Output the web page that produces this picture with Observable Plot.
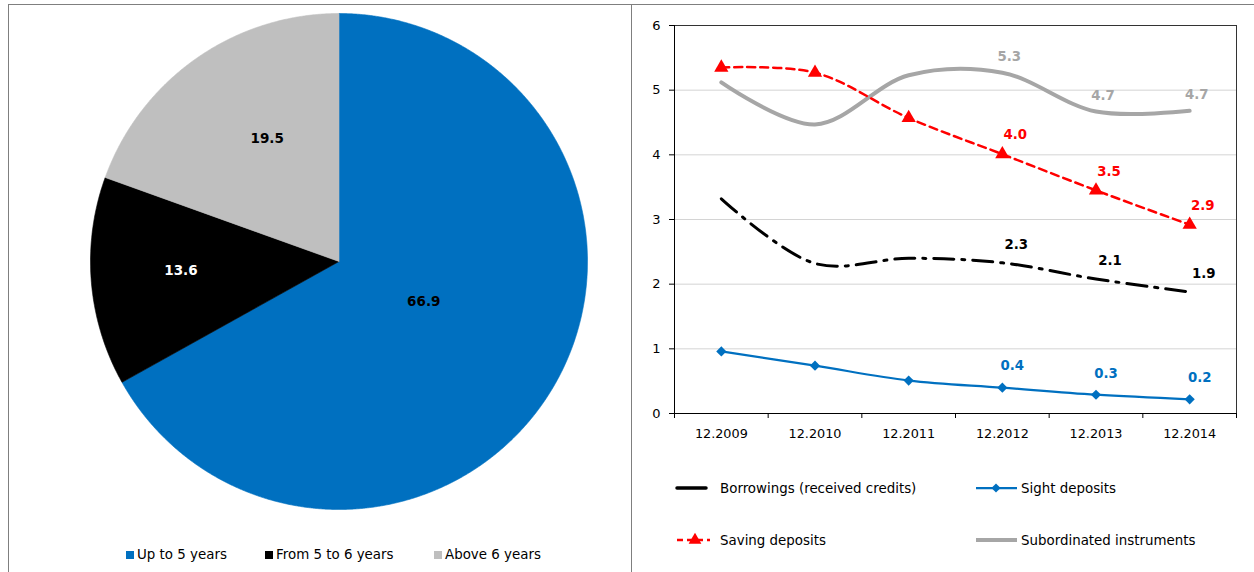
<!DOCTYPE html>
<html>
<head>
<meta charset="utf-8">
<script src="https://cdn.jsdelivr.net/npm/d3@7"></script>
<script src="https://cdn.jsdelivr.net/npm/@observablehq/plot@0.6"></script>
<style>
  html, body { margin: 0; padding: 0; background: #fff; }
  body { width: 1254px; height: 572px; overflow: hidden; position: relative; font-family: "DejaVu Sans", Verdana, sans-serif; }
  .abs { position: absolute; }
  .hline { position: absolute; height: 0; border-top: 1px solid #7f7f7f; }
  .vline { position: absolute; width: 0; border-left: 1px solid #7f7f7f; }
  .leg { position: absolute; font-size: 13.4px; color: #000; white-space: nowrap; line-height: 1; }
  .sq { position: absolute; width: 8px; height: 8px; }
</style>
</head>
<body>
<div class="hline" style="left:8px; top:4px; width:1246px;"></div>
<div class="vline" style="left:8px; top:4px; height:568px;"></div>
<div class="vline" style="left:631px; top:4px; height:568px;"></div>

<div id="pie" class="abs" style="left:90px; top:13px;"></div>
<div id="pieLegend"></div>
<div id="lineChart" class="abs" style="left:620px; top:0px;"></div>
<div id="lineLegend" class="abs" style="left:620px; top:460px;"></div>

<script>
// ---------------- DATA ----------------
const pieCategories = ["Up to 5 years", "From 5 to 6 years", "Above 6 years"];
const pieValues = [66.9, 13.6, 19.5];

const years = ["12.2009", "12.2010", "12.2011", "12.2012", "12.2013", "12.2014"];
const seriesNames = ["Borrowings (received credits)", "Sight deposits", "Saving deposits", "Subordinated instruments"];
const borrowings = [3.32, 2.32, 2.40, 2.33, 2.08, 1.88];
const sightDeposits = [0.96, 0.74, 0.51, 0.40, 0.29, 0.22];
const savingDeposits = [5.35, 5.27, 4.57, 4.01, 3.45, 2.92];
const subordinated = [5.12, 4.47, 5.23, 5.27, 4.67, 4.68];
const labeledYears = ["12.2012", "12.2013", "12.2014"];
const yTicks = [0, 1, 2, 3, 4, 5, 6];

// ---------------- STYLES ----------------
const pieColors = ["#0070C0", "#000000", "#BFBFBF"];
const pieLabelColors = ["#000000", "#FFFFFF", "#000000"];
const pieLabelRadius = [0.377, 0.637, 0.573];
const pieLabelAngleShift = [-5.2, 1.4, 4.8]; // degrees

const seriesStyle = {
  "Borrowings (received credits)": {stroke: "#000000", width: 3, dash: "20,8,3,8", labelColor: "#000000", dx: 14, dy: -18.5},
  "Sight deposits": {stroke: "#0070C0", width: 2.25, dash: null, labelColor: "#0070C0", dx: 10, dy: -21.5, symbol: "diamond2", r: 4.6},
  "Saving deposits": {stroke: "#FF0000", width: 2.5, dash: "8,5", labelColor: "#FF0000", dx: 13, dy: -19, symbol: "triangle", r: 5.3},
  "Subordinated instruments": {stroke: "#A6A6A6", width: 4, dash: null, labelColor: "#A6A6A6", dx: 7, dy: -16}
};
const seriesValues = {
  "Borrowings (received credits)": borrowings,
  "Sight deposits": sightDeposits,
  "Saving deposits": savingDeposits,
  "Subordinated instruments": subordinated
};

// ---------------- PIE ----------------
const total = d3.sum(pieValues);
const slicePts = [];
const pieLabels = [];
let cum = 0;
pieCategories.forEach((c, i) => {
  const a0 = cum / total * 2 * Math.PI;
  cum += pieValues[i];
  const a1 = cum / total * 2 * Math.PI;
  slicePts.push({c, x: 0, y: 0});
  const n = Math.max(2, Math.ceil((a1 - a0) / (Math.PI / 720)));
  for (let k = 0; k <= n; k++) {
    const a = a0 + (a1 - a0) * k / n;
    slicePts.push({c, x: Math.sin(a), y: Math.cos(a)});
  }
  slicePts.push({c, x: 0, y: 0});
  const am = (a0 + a1) / 2 + pieLabelAngleShift[i] * Math.PI / 180;
  pieLabels.push({c, value: pieValues[i], x: Math.sin(am) * pieLabelRadius[i], y: Math.cos(am) * pieLabelRadius[i], color: pieLabelColors[i]});
});

const pie = Plot.plot({
  width: 497, height: 496,
  margin: 0,
  x: {domain: [-1, 1], axis: null},
  y: {domain: [-1, 1], axis: null},
  color: {domain: pieCategories, range: pieColors},
  style: {fontFamily: "DejaVu Sans", background: "transparent", overflow: "visible"},
  marks: [
    Plot.line(slicePts, {x: "x", y: "y", z: "c", fill: "c", stroke: "c", strokeWidth: 0.6}),
    Plot.text(pieLabels, {x: "x", y: "y", text: d => d.value.toFixed(1), fill: d => d.color, fontWeight: "bold", fontSize: 13.5})
  ]
});
document.getElementById("pie").appendChild(pie);

// pie legend
const pieLegendPos = [126, 265, 434];
const pl = document.getElementById("pieLegend");
pieCategories.forEach((c, i) => {
  const sq = document.createElement("div");
  sq.className = "sq";
  sq.style.left = pieLegendPos[i] + "px";
  sq.style.top = "551px";
  sq.style.background = pieColors[i];
  pl.appendChild(sq);
  const t = document.createElement("div");
  t.className = "leg";
  t.style.left = (pieLegendPos[i] + 11) + "px";
  t.style.top = "548px";
  t.textContent = c;
  pl.appendChild(t);
});

// ---------------- LINE CHART ----------------
const rows = [];
seriesNames.forEach(s => {
  seriesValues[s].forEach((v, i) => rows.push({series: s, i, year: years[i], value: v}));
});

const lineMarks = [];
seriesNames.slice().reverse().forEach(s => {
  const st = seriesStyle[s];
  const data = rows.filter(d => d.series === s);
  lineMarks.push(Plot.line(data, {
    x: "i", y: "value", stroke: st.stroke, strokeWidth: st.width,
    strokeDasharray: st.dash || undefined, curve: "catmull-rom", strokeLinejoin: "round"
  }));
  if (st.symbol) {
    lineMarks.push(Plot.dot(data, {x: "i", y: "value", symbol: st.symbol, r: st.r, fill: st.stroke, stroke: null}));
  }
});
seriesNames.forEach(s => {
  const st = seriesStyle[s];
  const data = rows.filter(d => d.series === s && labeledYears.includes(d.year));
  lineMarks.push(Plot.text(data, {
    x: "i", y: "value", text: d => d.value.toFixed(1), dx: st.dx, dy: st.dy,
    fill: st.labelColor, fontWeight: "bold", fontSize: 13.3
  }));
});

const chart = Plot.plot({
  width: 634, height: 450,
  marginLeft: 54, marginRight: 18, marginTop: 25, marginBottom: 37,
  x: {domain: [-0.5, years.length - 0.5], axis: null, label: null},
  y: {domain: [0, 6], axis: null, label: null},
  style: {fontFamily: "DejaVu Sans", fontSize: "12.5px", color: "#000", background: "transparent", overflow: "visible"},
  marks: [
    Plot.gridY({ticks: yTicks.filter(t => t > 0 && t < 6), stroke: "#D4D4D4", strokeOpacity: 1}),
    Plot.frame({stroke: "#333"}),
    Plot.ruleY([0], {stroke: "#000"}),
    Plot.ruleX([-0.5], {stroke: "#000"}),
    Plot.axisY({ticks: yTicks, tickSize: 5, tickPadding: 9, tickFormat: d => String(d), fontSize: 13, label: null}),
    Plot.axisX({ticks: d3.range(-0.5, years.length, 1), tickSize: 5, tickFormat: () => "", label: null}),
    Plot.axisX({ticks: d3.range(0, years.length), tickSize: 0, tickPadding: 15, tickFormat: i => years[i], fontSize: 12.8, label: null}),
    ...lineMarks
  ]
});
document.getElementById("lineChart").appendChild(chart);

// line legend (SVG, positions relative to legend box at 620,460)
const legendPos = {
  "Borrowings (received credits)": {x1: 57, x2: 86, y: 28, tx: 100},
  "Sight deposits": {x1: 356, x2: 397, y: 28, tx: 401, sx: 376},
  "Saving deposits": {x1: 57, x2: 90, y: 80, tx: 100, sx: 75},
  "Subordinated instruments": {x1: 356, x2: 397, y: 80, tx: 401}
};
const lsvg = d3.select("#lineLegend").append("svg").attr("width", 634).attr("height", 112)
  .style("font-family", "DejaVu Sans").style("font-size", "13.4px");
seriesNames.forEach(s => {
  const st = seriesStyle[s], p = legendPos[s];
  lsvg.append("line").attr("x1", p.x1).attr("x2", p.x2).attr("y1", p.y).attr("y2", p.y)
    .attr("stroke", st.stroke).attr("stroke-width", s === "Borrowings (received credits)" ? 3.5 : st.width)
    .attr("stroke-dasharray", s === "Saving deposits" ? "6,4" : null)
    .attr("stroke-linecap", s === "Borrowings (received credits)" ? "round" : "butt");
  if (st.symbol) {
    const sym = st.symbol === "triangle" ? d3.symbolTriangle : d3.symbolDiamond2;
    lsvg.append("path").attr("d", d3.symbol(sym, Math.PI * st.r * st.r * 0.8)())
      .attr("transform", `translate(${p.sx},${p.y})`).attr("fill", st.stroke);
  }
  lsvg.append("text").attr("x", p.tx).attr("y", p.y).attr("dy", "0.35em").text(s);
});
</script>
</body>
</html>
